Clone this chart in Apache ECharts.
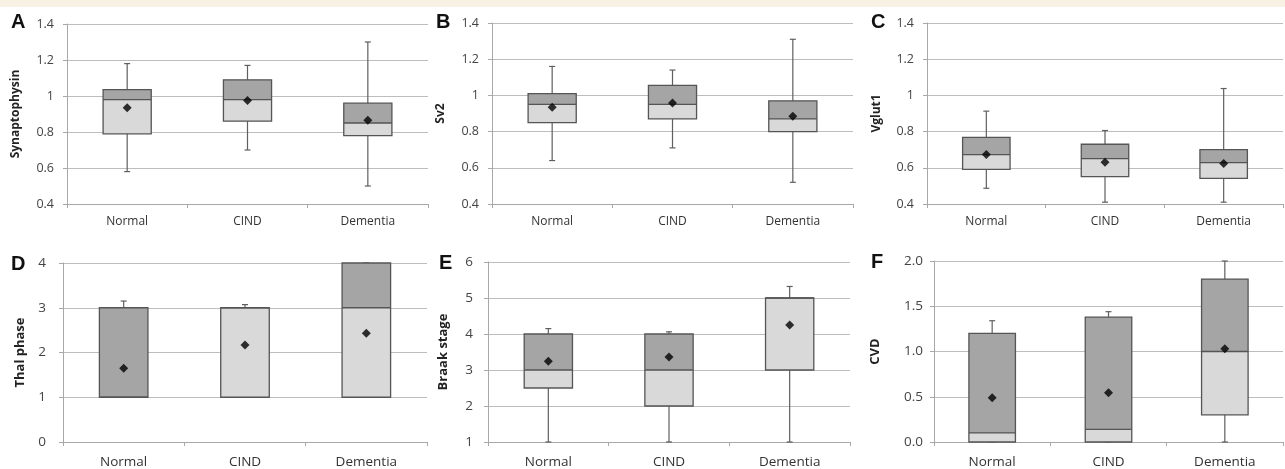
<!DOCTYPE html>
<html>
<head>
<meta charset="utf-8">
<script src="https://cdn.jsdelivr.net/npm/echarts@6/dist/echarts.min.js"></script>
<style>
html,body{margin:0;padding:0;background:#fff;}
#band{position:absolute;left:0;top:0;width:1285px;height:7px;background:#f7f2e4;}
#chart{position:absolute;left:0;top:0;width:1285px;height:469px;}
</style>
</head>
<body>
<div id="band"></div>
<div id="chart"></div>
<script>
// ---- data (min, Q1, median, Q3, max) ----
const categories = ['Normal', 'CIND', 'Dementia'];

const synaptophysinBox = [[0.58, 0.79, 0.98, 1.035, 1.18], [0.70, 0.86, 0.98, 1.09, 1.17], [0.50, 0.78, 0.85, 0.96, 1.30]];
const synaptophysinMean = [0.935, 0.975, 0.865];

const sv2Box = [[0.64, 0.85, 0.95, 1.01, 1.16], [0.71, 0.87, 0.95, 1.055, 1.14], [0.52, 0.80, 0.87, 0.97, 1.31]];
const sv2Mean = [0.935, 0.958, 0.885];

const vglut1Box = [[0.487, 0.591, 0.673, 0.768, 0.913], [0.41, 0.551, 0.651, 0.73, 0.806], [0.41, 0.542, 0.629, 0.70, 1.038]];
const vglut1Mean = [0.673, 0.630, 0.624];

const thalBox = [[1, 1, 1, 3, 3.15], [1, 1, 3, 3, 3.07], [1, 1, 3, 4, 4]];
const thalMean = [1.65, 2.17, 2.43];

const braakBox = [[1, 2.5, 3, 4, 4.15], [1, 2, 3, 4, 4.06], [1, 3, 5, 5, 5.32]];
const braakMean = [3.24, 3.36, 4.25];

const cvdBox = [[0, 0, 0.1, 1.2, 1.34], [0, 0, 0.14, 1.38, 1.44], [0, 0.3, 1.0, 1.8, 2.0]];
const cvdMean = [0.49, 0.545, 1.03];

const panelLetters = ['A', 'B', 'C', 'D', 'E', 'F'];
const axisTitles = ['Synaptophysin', 'Sv2', 'Vglut1', 'Thal phase', 'Braak stage', 'CVD'];
const boxSets = [synaptophysinBox, sv2Box, vglut1Box, thalBox, braakBox, cvdBox];
const meanSets = [synaptophysinMean, sv2Mean, vglut1Mean, thalMean, braakMean, cvdMean];
const yRanges = [[0.4, 1.4, 0.2], [0.4, 1.4, 0.2], [0.4, 1.4, 0.2], [0, 4, 1], [1, 6, 1], [0, 2, 0.5]];

// ---- layout ----
const grids = [
  {left: 67, top: 24, width: 361, height: 180},
  {left: 492, top: 23, width: 361, height: 181},
  {left: 927, top: 23, width: 356, height: 181},
  {left: 63, top: 263, width: 364, height: 179},
  {left: 488, top: 262, width: 362, height: 180},
  {left: 934, top: 261, width: 349, height: 181}
];
const nameGaps = [45, 45, 44, 36, 38, 52];
const labelMargins = [13, 13, 13, 17, 15, 11];
const letterPos = [[11, 12], [436, 12], [871, 12], [11, 254], [439, 253], [871, 252]];

const LIGHT = '#d9d9d9', DARK = '#a5a5a5', EDGE = '#555555', WHISK = '#5f5f5f';

function renderBox(params, api) {
  const x = api.value(0);
  const mn = api.value(1), q1 = api.value(2), md = api.value(3), q3 = api.value(4), mx = api.value(5);
  const pMin = api.coord([x, mn]), pQ1 = api.coord([x, q1]), pMd = api.coord([x, md]);
  const pQ3 = api.coord([x, q3]), pMx = api.coord([x, mx]);
  const w = api.size([1, 0])[0] * 0.4;
  const cx = pMin[0];
  const cap = 3;
  const lineStyle = {stroke: WHISK, lineWidth: 1.2};
  return {
    type: 'group',
    children: [
      {type: 'line', shape: {x1: cx, y1: pMin[1], x2: cx, y2: pMx[1]}, style: lineStyle},
      {type: 'line', shape: {x1: cx - cap, y1: pMin[1], x2: cx + cap, y2: pMin[1]}, style: lineStyle},
      {type: 'line', shape: {x1: cx - cap, y1: pMx[1], x2: cx + cap, y2: pMx[1]}, style: lineStyle},
      {type: 'rect', shape: {x: cx - w / 2, y: pMd[1], width: w, height: pQ1[1] - pMd[1]}, style: {fill: LIGHT}},
      {type: 'rect', shape: {x: cx - w / 2, y: pQ3[1], width: w, height: pMd[1] - pQ3[1]}, style: {fill: DARK}},
      {type: 'line', shape: {x1: cx - w / 2, y1: pMd[1], x2: cx + w / 2, y2: pMd[1]}, style: {stroke: EDGE, lineWidth: 1.3}},
      {type: 'rect', shape: {x: cx - w / 2, y: pQ3[1], width: w, height: pQ1[1] - pQ3[1]}, style: {fill: 'none', stroke: EDGE, lineWidth: 1.3}}
    ]
  };
}

const xAxis = [], yAxis = [], series = [], title = [];
grids.forEach((g, i) => {
  const bottomRow = i >= 3;
  xAxis.push({
    type: 'category', gridIndex: i, data: categories,
    axisLine: {lineStyle: {color: '#a8a8a8'}},
    axisTick: {show: true, length: 4, lineStyle: {color: '#a8a8a8'}},
    axisLabel: {color: '#333', fontFamily: 'Open Sans', fontSize: bottomRow ? 13.5 : 12, margin: bottomRow ? 13 : 12}
  });
  const r = yRanges[i];
  yAxis.push({
    type: 'value', gridIndex: i, min: r[0], max: r[1], interval: r[2],
    name: axisTitles[i], nameLocation: 'middle', nameGap: nameGaps[i],
    nameTextStyle: {color: '#222', fontFamily: 'Open Sans', fontSize: bottomRow ? 13 : 12, fontWeight: 'bold'},
    axisLine: {show: true, lineStyle: {color: '#a8a8a8'}},
    axisTick: {show: true, length: 4, lineStyle: {color: '#a8a8a8'}},
    splitLine: {lineStyle: {color: '#bdbdbd', width: 1}},
    axisLabel: {
      color: '#444', fontFamily: 'Open Sans', fontSize: bottomRow ? 13.5 : 12.5, margin: labelMargins[i],
      formatter: i === 5 ? (v => v.toFixed(1)) : (v => String(Math.round(v * 10) / 10))
    }
  });
  series.push({
    type: 'custom', xAxisIndex: i, yAxisIndex: i,
    renderItem: renderBox,
    encode: {x: 0, y: [1, 2, 3, 4, 5]},
    data: boxSets[i].map((b, k) => [k].concat(b)),
    z: 2
  });
  series.push({
    type: 'scatter', xAxisIndex: i, yAxisIndex: i,
    symbol: 'diamond', symbolSize: 9,
    itemStyle: {color: '#000'},
    data: meanSets[i],
    z: 5
  });
  title.push({
    text: panelLetters[i], left: letterPos[i][0], top: letterPos[i][1], padding: 0,
    textStyle: {fontFamily: 'Liberation Sans', fontWeight: 'bold', fontSize: 20, color: '#111'}
  });
});

const chart = echarts.init(document.getElementById('chart'), null, {renderer: 'canvas'});
chart.setOption({
  animation: false,
  backgroundColor: 'transparent',
  title: title,
  grid: grids,
  xAxis: xAxis,
  yAxis: yAxis,
  series: series
});
</script>
</body>
</html>
